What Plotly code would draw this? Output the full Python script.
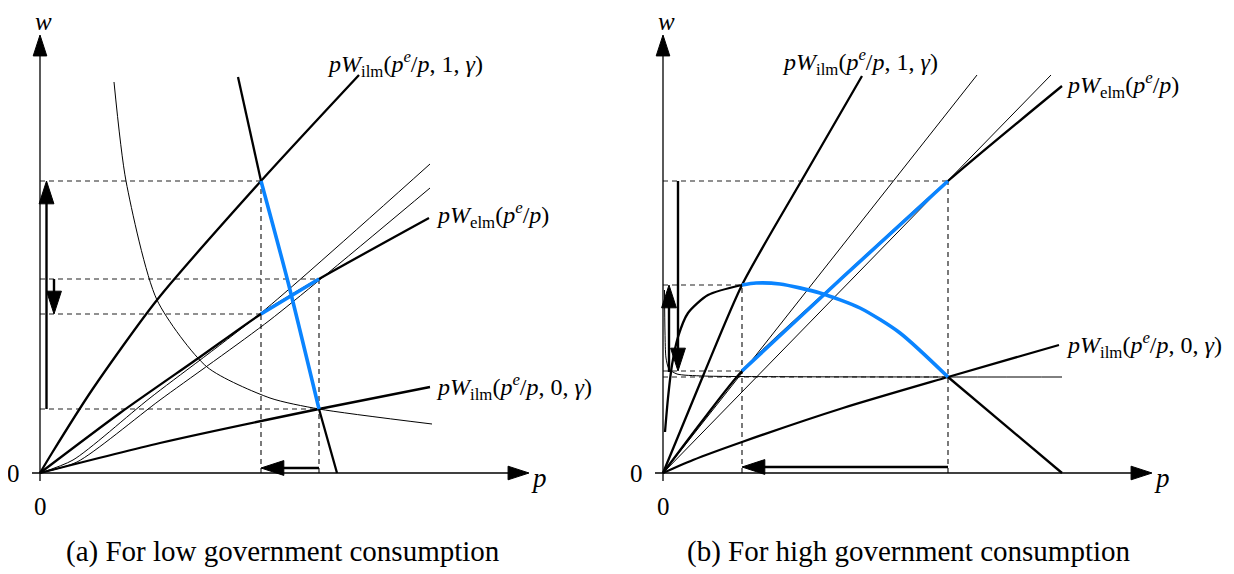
import plotly.graph_objects as go

# ---------------- data (panel coordinates: p right, w up; origin at 0) -------------
# Panel (a): low government consumption
A_ILM1_P = [0, 12, 52, 117, 221, 319]
A_ILM1_W = [0, 20, 83, 173, 292, 398]
A_ELM_P = [0, 80, 160, 221, 279, 389]
A_ELM_W = [0, 60, 116, 159, 194, 255]
A_ILM0_P = [0, 120, 279, 390]
A_ILM0_W = [0, 30, 64, 86]
A_THIN1_P = [0, 33, 110, 221, 390]
A_THIN1_W = [0, 13, 75, 160, 309]
A_THIN2_P = [0, 37, 120, 230, 390]
A_THIN2_W = [0, 11, 73, 153, 285]
A_HYP_P = [74, 86, 117, 167, 230, 279, 392]
A_HYP_W = [391, 292, 173, 106, 75, 64, 49]
A_STEEP_P = [198, 221, 248, 279, 297]
A_STEEP_W = [396, 292, 191, 64, 0]
A_P_LEVELS = [221, 279]          # p values of the vertical dashed guides
A_P_TOPS = [292, 194]
A_W_LEVELS = [292, 194, 159, 64]  # w values of the horizontal dashed guides
A_W_ENDS = [221, 279, 221, 279]

# Panel (b): high government consumption
B_ILM1_P = [0, 40, 79, 140, 199]
B_ILM1_W = [0, 97, 188, 295, 397]
B_ELM_P = [0, 40, 79, 180, 285, 399]
B_ELM_W = [0, 53, 102, 196, 292, 387]
B_ILM0_P = [0, 30, 79, 180, 285, 396]
B_ILM0_W = [0, 13, 31, 65, 96, 128]
B_THIN1_P = [0, 314]
B_THIN1_W = [0, 398]
B_THIN2_P = [0, 388]
B_THIN2_W = [0, 398]
B_HUMP_P = [2, 5, 9, 15, 25, 45, 79, 93, 117, 157, 197, 237, 285, 342, 399]
B_HUMP_W = [41, 75, 108, 136, 160, 178, 188, 190, 189, 180, 165, 140, 96, 48, 0]
B_HYP_P = [1.5, 2, 3, 6, 14, 40, 120, 285, 399]
B_HYP_W = [183, 140, 115, 104, 99, 97, 96.3, 96, 96]
B_P_LEVELS = [79, 285]
B_P_TOPS = [188, 292]
B_W_LEVELS = [292, 188, 102, 96]
B_W_ENDS = [285, 79, 79, 285]

# arrows: (p_from, w_from, p_to, w_to)
A_ARROWS = [(6.5, 64, 6.5, 292), (14, 194, 14, 159), (279, 5, 221, 5)]
B_ARROWS = [(6, 101, 6, 188), (15, 292, 15, 102), (285, 6, 79, 6)]

AXIS_P_MAX = 489
AXIS_W_MAX = 438

LBL_ILM1 = "<i>pW</i><sub>ilm</sub>(<i>p</i><sup><i>e</i></sup>/<i>p</i>, 1, <i>γ</i>)"
LBL_ELM = "<i>pW</i><sub>elm</sub>(<i>p</i><sup><i>e</i></sup>/<i>p</i>)"
LBL_ILM0 = "<i>pW</i><sub>ilm</sub>(<i>p</i><sup><i>e</i></sup>/<i>p</i>, 0, <i>γ</i>)"
CAPTIONS = ["(a) For low government consumption", "(b) For high government consumption"]

# ---------------- figure ----------------
BLUE = "#0a84ff"
DASH_COLOR = "#222222"
FONT = "Liberation Serif"
fig = go.Figure()


def axes_of(ax):
    return ("x", "y") if ax == 1 else ("x2", "y2")


def line(ax, xs, ys, width=2.0, color="black", dash=None, shape="spline"):
    xa, ya = axes_of(ax)
    fig.add_trace(go.Scatter(
        x=list(xs), y=list(ys), xaxis=xa, yaxis=ya, mode="lines",
        line=dict(width=width, color=color, dash=dash, shape=shape, smoothing=0.7),
        hoverinfo="skip", showlegend=False))


def arrow(ax, x0, y0, x1, y1, width=2.0, size=24):
    xa, ya = axes_of(ax)
    fig.add_trace(go.Scatter(
        x=[x0, x1], y=[y0, y1], xaxis=xa, yaxis=ya, mode="lines+markers",
        line=dict(width=width, color="black"),
        marker=dict(symbol="arrow", size=[0, size], angleref="previous",
                    color="black", opacity=1, line=dict(width=1, color="black")),
        hoverinfo="skip", showlegend=False))


def guides(ax, wl, we, pl, pt):
    for w, pe in zip(wl, we):
        line(ax, [0, pe], [w, w], width=1.2, color=DASH_COLOR, dash="5px,4px", shape="linear")
    for pv, wtop in zip(pl, pt):
        line(ax, [pv, pv], [0, wtop], width=1.2, color=DASH_COLOR, dash="5px,4px", shape="linear")
    arrow(ax, -8, 0, AXIS_P_MAX, 0, width=1.3, size=22)
    arrow(ax, 0, -8, 0, AXIS_W_MAX, width=1.3, size=22)


guides(1, A_W_LEVELS, A_W_ENDS, A_P_LEVELS, A_P_TOPS)
guides(2, B_W_LEVELS, B_W_ENDS, B_P_LEVELS, B_P_TOPS)

# panel (a) curves
line(1, A_THIN1_P, A_THIN1_W, width=1.0)
line(1, A_THIN2_P, A_THIN2_W, width=1.0)
line(1, A_HYP_P, A_HYP_W, width=1.0)
line(1, A_ILM1_P, A_ILM1_W, width=2.3)
line(1, A_ELM_P, A_ELM_W, width=2.3)
line(1, A_ILM0_P, A_ILM0_W, width=2.3)
line(1, A_STEEP_P[:2], A_STEEP_W[:2], width=2.3)
line(1, A_STEEP_P[3:], A_STEEP_W[3:], width=2.3)
line(1, A_STEEP_P[1:4], A_STEEP_W[1:4], width=3.6, color=BLUE)
line(1, A_ELM_P[3:5], A_ELM_W[3:5], width=3.6, color=BLUE, shape="linear")

# panel (b) curves
line(2, B_THIN1_P, B_THIN1_W, width=1.0, shape="linear")
line(2, B_THIN2_P, B_THIN2_W, width=1.0, shape="linear")
line(2, B_HYP_P, B_HYP_W, width=1.0)
line(2, B_ILM1_P, B_ILM1_W, width=2.3)
line(2, B_ELM_P, B_ELM_W, width=2.3)
line(2, B_ILM0_P, B_ILM0_W, width=2.3)
line(2, B_HUMP_P[:7], B_HUMP_W[:7], width=2.3)
line(2, B_HUMP_P[12:], B_HUMP_W[12:], width=2.3, shape="linear")
line(2, B_HUMP_P[6:13], B_HUMP_W[6:13], width=3.6, color=BLUE)
line(2, B_ELM_P[2:5], B_ELM_W[2:5], width=3.6, color=BLUE)

for a in A_ARROWS:
    arrow(1, *a, width=2.4, size=24)
for a in B_ARROWS:
    arrow(2, *a, width=2.4, size=24)


# ---------------- text ----------------
def txt(ax, x, y, s, size=24, xanchor="left", yanchor="middle"):
    xa, ya = axes_of(ax)
    fig.add_annotation(x=x, y=y, xref=xa, yref=ya, text=s, showarrow=False,
                       xanchor=xanchor, yanchor=yanchor, borderpad=0,
                       font=dict(family=FONT, size=size, color="black"))


for ax in (1, 2):
    txt(ax, -27, 0, "0", size=25, xanchor="center")
    txt(ax, 0, -33, "0", size=25, xanchor="center")
    txt(ax, 3, 452, "<i>w</i>", size=25, xanchor="center")
    txt(ax, 499, -5, "<i>p</i>", size=27, xanchor="center")

txt(1, 286, 409, LBL_ILM1)
txt(1, 395, 258, LBL_ELM)
txt(1, 395, 86, LBL_ILM0)
txt(2, 118, 411, LBL_ILM1)
txt(2, 402, 388, LBL_ELM)
txt(2, 402, 128, LBL_ILM0)
txt(1, 243, -78, CAPTIONS[0], size=29, xanchor="center")
txt(2, 246, -78, CAPTIONS[1], size=29, xanchor="center")

# page body has an 8px margin: figure is 8px smaller and ranges compensate
FIG_W, FIG_H = 1226, 566
SPLIT = 609 / FIG_W
ax_common = dict(visible=False, showgrid=False, zeroline=False, fixedrange=True)
fig.update_layout(
    width=FIG_W, height=FIG_H, autosize=False,
    margin=dict(l=0, r=0, t=0, b=0),
    paper_bgcolor="white", plot_bgcolor="white",
    xaxis=dict(domain=[0, SPLIT], range=[-32, 577], **ax_common),
    yaxis=dict(domain=[0, 1], range=[-101, 465], **ax_common),
    xaxis2=dict(domain=[SPLIT, 1], range=[-46, 571], anchor="y2", **ax_common),
    yaxis2=dict(domain=[0, 1], range=[-101, 465], anchor="x2", **ax_common),
    showlegend=False,
)

fig.write_html("out.html")
